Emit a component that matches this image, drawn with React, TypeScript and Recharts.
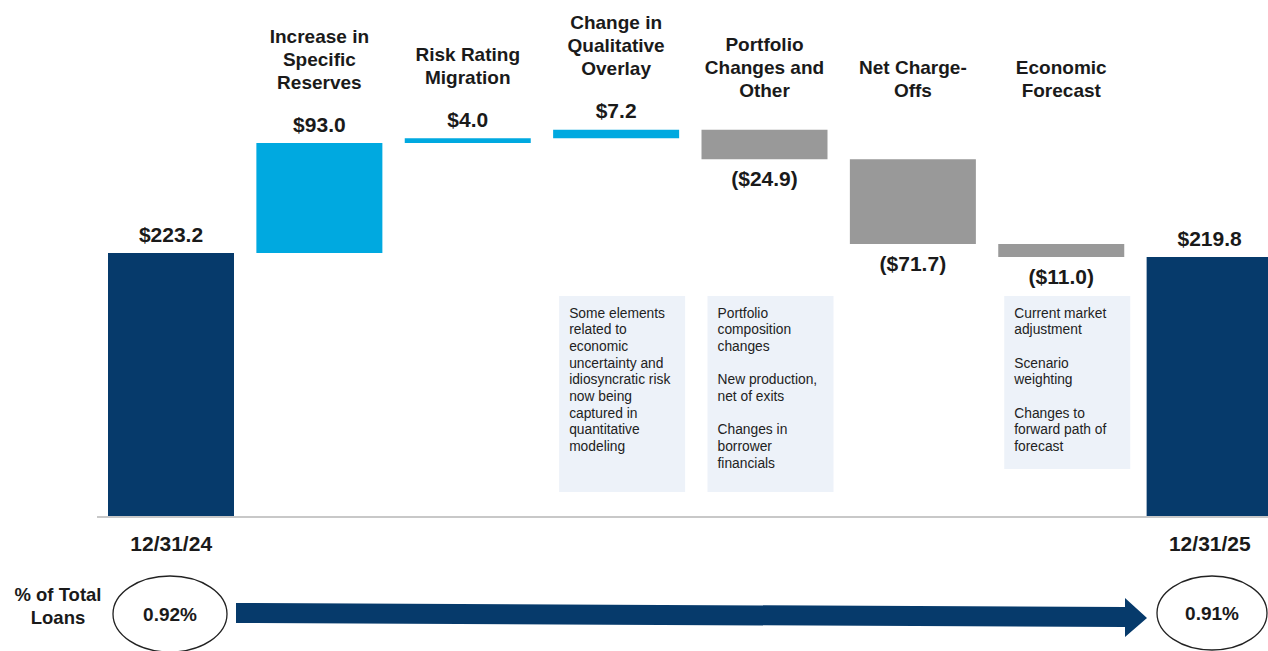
import React from 'react';
import { BarChart, Bar, XAxis, YAxis, Cell, LabelList } from 'recharts';

// waterfall steps, $ millions
const stepKeys = ['start', 'specific', 'migration', 'overlay', 'portfolio', 'nco', 'forecast', 'end'];
const stepValues = [223.2, 93.0, 4.0, 7.2, -24.9, -71.7, -11.0, 219.8];
const stepIsTotal = [true, false, false, false, false, false, false, true];
const stepNames: string[][] = [
  [],
  ['Increase in', 'Specific', 'Reserves'],
  ['Risk Rating', 'Migration'],
  ['Change in', 'Qualitative', 'Overlay'],
  ['Portfolio', 'Changes and', 'Other'],
  ['Net Charge-', 'Offs'],
  ['Economic', 'Forecast'],
  [],
];
const dateLabels = ['12/31/24', '', '', '', '', '', '', '12/31/25'];

// commentary boxes under some steps
const noteSteps = [3, 4, 6];
const noteLines: string[][] = [
  ['Some elements', 'related to', 'economic', 'uncertainty and', 'idiosyncratic risk', 'now being', 'captured in', 'quantitative', 'modeling'],
  ['Portfolio', 'composition', 'changes', '', 'New production,', 'net of exits', '', 'Changes in', 'borrower', 'financials'],
  ['Current market', 'adjustment', '', 'Scenario', 'weighting', '', 'Changes to', 'forward path of', 'forecast'],
];

const pctLabel = ['% of Total', 'Loans'];
const pctValues = ['0.92%', '0.91%'];

const NAVY = '#063a6b';
const BLUE = '#00a9e0';
const GREY = '#999999';
const FONT = "'Liberation Sans', Arial, sans-serif";
const TEXT = '#1a1a1a';

// build stacked rows: invisible base + visible step
let running = 0;
const data = stepKeys.map((key, i) => {
  const v = stepValues[i];
  let base = 0;
  let size = v;
  if (stepIsTotal[i]) {
    running = v;
  } else if (v >= 0) {
    base = running;
    running += v;
  } else {
    running += v;
    base = running;
    size = -v;
  }
  return { key, base, size };
});

const barColor = (i: number) => {
  if (stepIsTotal[i]) return NAVY;
  return stepValues[i] >= 0 ? BLUE : GREY;
};

const fmt = (i: number) => {
  const v = stepValues[i];
  return v < 0 ? `($${(-v).toFixed(1)})` : `$${v.toFixed(1)}`;
};

const noteHeights = [196, 196, 173];

const StepLabel = (props: any) => {
  const { x, y, width, height, index } = props;
  const cx = x + width / 2;
  const neg = stepValues[index] < 0;
  const names = stepNames[index];
  const nameBottom = neg ? 90 : y - 61;
  const noteIdx = noteSteps.indexOf(index);
  return (
    <g>
      <text
        x={cx}
        y={neg ? y + height + 19 : y - 19}
        textAnchor="middle"
        dominantBaseline="central"
        fontFamily={FONT}
        fontWeight="bold"
        fontSize={21}
        fill={TEXT}
      >
        {fmt(index)}
      </text>
      {names.map((line, j) => (
        <text
          key={j}
          x={cx}
          y={nameBottom - (names.length - 1 - j) * 23}
          textAnchor="middle"
          dominantBaseline="central"
          fontFamily={FONT}
          fontWeight="bold"
          fontSize={19}
          fill={TEXT}
        >
          {line}
        </text>
      ))}
      {noteIdx >= 0 && (
        <g>
          <rect x={x + 6} y={296} width={126} height={noteHeights[noteIdx]} fill="#edf2f9" />
          {noteLines[noteIdx].map((line, j) => (
            <text
              key={j}
              x={x + 16}
              y={313 + j * 16.7}
              dominantBaseline="central"
              fontFamily={FONT}
              fontSize={13.8}
              fill="#222"
            >
              {line}
            </text>
          ))}
        </g>
      )}
    </g>
  );
};

const DateTick = (props: any) => {
  const { x, y, payload } = props;
  const label = dateLabels[payload.index] ?? '';
  return (
    <text
      x={x}
      y={y + 18}
      textAnchor="middle"
      dominantBaseline="central"
      fontFamily={FONT}
      fontWeight="bold"
      fontSize={21}
      fill={TEXT}
    >
      {label}
    </text>
  );
};

const BottomStrip = () => (
  <svg width={1268} height={651} style={{ position: 'absolute', left: 0, top: 0, pointerEvents: 'none' }}>
    <text x={58} y={594} textAnchor="middle" dominantBaseline="central" fontFamily={FONT} fontWeight="bold" fontSize={18.5} fill={TEXT}>
      {pctLabel[0]}
    </text>
    <text x={58} y={617} textAnchor="middle" dominantBaseline="central" fontFamily={FONT} fontWeight="bold" fontSize={18.5} fill={TEXT}>
      {pctLabel[1]}
    </text>
    <ellipse cx={170} cy={614} rx={57} ry={38} fill="none" stroke="#222" strokeWidth={1.3} />
    <text x={170} y={614} textAnchor="middle" dominantBaseline="central" fontFamily={FONT} fontWeight="bold" fontSize={19} fill={TEXT}>
      {pctValues[0]}
    </text>
    <polygon points="236,603 1125,607 1125,598 1147,618 1125,637 1125,627 236,623" fill={NAVY} />
    <ellipse cx={1212} cy={613} rx={55} ry={37} fill="none" stroke="#222" strokeWidth={1.3} />
    <text x={1212} y={613} textAnchor="middle" dominantBaseline="central" fontFamily={FONT} fontWeight="bold" fontSize={19} fill={TEXT}>
      {pctValues[1]}
    </text>
  </svg>
);

export default function App() {
  return (
    <div style={{ position: 'absolute', left: 0, top: 0, width: 1268, height: 651, overflow: 'hidden', background: '#fff' }}>
      <BarChart
        width={1300}
        height={651}
        data={data}
        margin={{ top: 44, right: 16, bottom: 104, left: 97 }}
      >
        <XAxis
          dataKey="key"
          interval={0}
          height={30}
          tickLine={false}
          axisLine={{ stroke: '#c8c8c8', strokeWidth: 2 }}
          tick={<DateTick />}
        />
        <YAxis hide domain={[0, 400]} />
        <Bar dataKey="base" stackId="w" fill="transparent" barSize={126} isAnimationActive={false} />
        <Bar dataKey="size" stackId="w" barSize={126} isAnimationActive={false}>
          {data.map((d, i) => (
            <Cell key={d.key} fill={barColor(i)} />
          ))}
          <LabelList dataKey="size" content={<StepLabel />} />
        </Bar>
      </BarChart>
      <BottomStrip />
    </div>
  );
}
